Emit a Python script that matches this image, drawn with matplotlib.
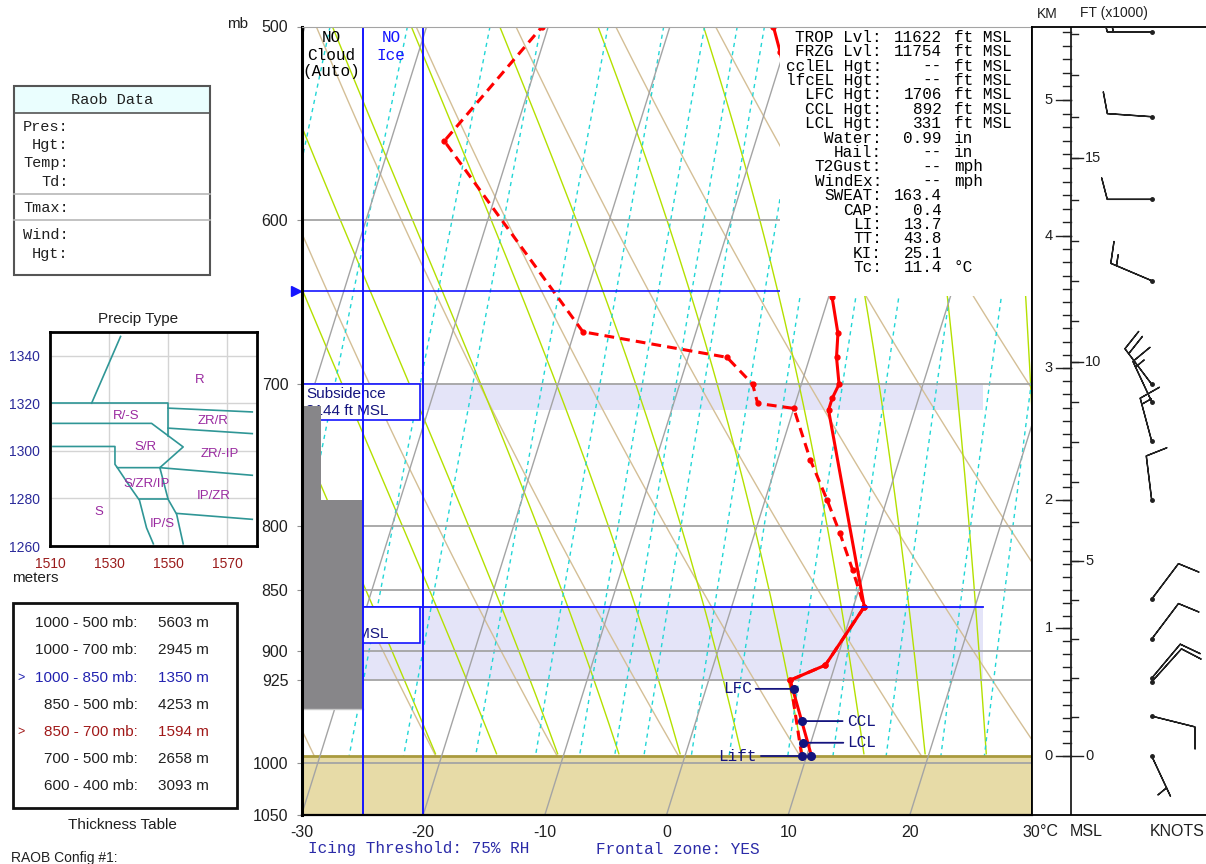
import numpy as np
import matplotlib.pyplot as plt
from matplotlib.patches import Rectangle

plt.rcParams['font.family'] = ['Liberation Sans', 'DejaVu Sans']
MONO = ['Liberation Mono', 'DejaVu Sans Mono']
W, H = 1206, 864
NAVY = '#14147e'
BLUE = '#1515ff'

# ---------------- sounding ----------------
temp_p = [993.3, 924.9, 911.9, 863.2, 717.3, 709.4, 700.1, 682.6, 667.4, 645.2, 512.0, 500.0]
temp_c = [10.4, 6.7, 9.2, 10.9, 2.9, 2.9, 3.1, 2.2, 1.7, 0.3, -10.3, -11.5]
dewp_p = [993.3, 924.9, 911.9, 863.2, 833.9, 805.4, 780.7, 751.9, 716.2, 712.8, 700.1, 682.6, 666.4, 556.9, 500.0]
dewp_c = [9.6, 6.7, 9.2, 10.9, 9.0, 7.0, 5.1, 2.7, 0.0, -3.1, -4.0, -6.8, -19.3, -35.6, -30.5]
p_sfc = 993.3
frz_p = 641.3

parcel_lab = ['LFC', 'CCL', 'LCL', 'Lift', '']
parcel_p = [932.5, 961.2, 981.0, 993.3, 993.3]
parcel_c = [7.2, 8.7, 9.4, 9.6, 10.4]
parcel_off = [-42, 45, 44, -45, 0]

# layers: subsidence and frontal zone
band_top = [700.1, 863.2]
band_bot = [717.3, 924.9]
band_text = [['Subsidence', '8144 ft MSL'], ['Frontal', '3850 ft MSL']]
band_box_bot = [724.1, 893.4]

# cloud column
cloud_top = [714.3, 780.7]
cloud_bot = [780.7, 950.4]
cloud_frac = [0.31, 1.0]

# winds
wind_p = [502.5, 544.3, 588.3, 635.1, 700.1, 711.7, 738.6, 780.7, 857.0, 889.8, 923.2, 926.4, 956.7, 993.3]
wind_dir = [270, 274, 270, 293, 323, 335, 345, 353, 37, 37, 40, 42, 104, 155]
wind_kt = [20, 10, 10, 15, 20, 15, 15, 10, 10, 10, 10, 10, 10, 5]

km_levels = [0, 1, 2, 3, 4, 5]
km_press = [993.3, 881.0, 780.7, 689.5, 609.0, 535.8]

# diagram background lines
isotherms = [-90, -80, -70, -60, -50, -40, -30, -20, -10, 0, 10, 20, 30]
isobars = [600, 700, 800, 850, 900, 925, 1000]
theta_c = [-40, -30, -20, -10, 0, 10, 20, 30, 40, 50, 60, 70, 80]
thetaw_c = [-20, -15, -10, -5, 0, 5, 10, 15, 20, 25, 30, 35]
mixr = [0.1, 0.2, 0.4, 0.6, 1, 1.5, 2, 2.5, 3, 4, 5, 7, 9, 12, 16, 20]

p_ticks = [500, 600, 700, 800, 850, 900, 925, 1000, 1050]
t_ticks = [-30, -20, -10, 0, 10, 20, 30]

stat_labels = ['TROP Lvl:', 'FRZG Lvl:', 'cclEL Hgt:', 'lfcEL Hgt:', 'LFC Hgt:', 'CCL Hgt:', 'LCL Hgt:',
               'Water:', 'Hail:', 'T2Gust:', 'WindEx:', 'SWEAT:', 'CAP:', 'LI:', 'TT:', 'KI:', 'Tc:']
stat_values = ['11622', '11754', '--', '--', '1706', '892', '331', '0.99', '--', '--', '--',
               '163.4', '0.4', '13.7', '43.8', '25.1', '11.4']
stat_units = ['ft MSL'] * 7 + ['in', 'in', 'mph', 'mph', '', '', '', '', '', '°C']

thick_layer = ['1000 - 500 mb:', '1000 - 700 mb:', '1000 - 850 mb:', '850 - 500 mb:',
               '850 - 700 mb:', '700 - 500 mb:', '600 - 400 mb:']
thick_value = ['5603 m', '2945 m', '1350 m', '4253 m', '1594 m', '2658 m', '3093 m']
thick_color = ['#202020', '#202020', '#2222b0', '#202020', '#a01818', '#202020', '#202020']
thick_mark = ['', '', '>', '', '>', '', '']

raob_rows = [('Pres:', 126.7), ('Hgt:', 145), ('Temp:', 163.3), ('Td:', 181.7),
             ('Tmax:', 208.3), ('Wind:', 235), ('Hgt:', 254)]

precip_lines = [
    [(1524.1, 1320), (1533.9, 1348)],
    [(1510, 1320), (1550, 1320), (1550, 1306.3)],
    [(1550, 1317.9), (1578.5, 1316.3)],
    [(1550, 1309.5), (1578.5, 1307.2)],
    [(1511, 1311.5), (1544.4, 1311.5), (1555.1, 1301.6), (1547.2, 1292.9)],
    [(1511, 1301.8), (1532, 1301.8), (1532, 1294.3), (1532.8, 1292.9), (1547.2, 1292.9), (1578.5, 1289.7)],
    [(1532.8, 1292.9), (1537.7, 1283.8), (1540.3, 1279.2), (1542.7, 1267.6), (1545, 1260.9)],
    [(1540.3, 1279.6), (1550, 1279.6)],
    [(1547.2, 1292.9), (1550, 1279.6), (1552.9, 1273.3), (1553.4, 1270.4), (1555.1, 1260.9)],
    [(1552.9, 1273.7), (1578.5, 1271.2)],
]
precip_names = ['R', 'R/-S', 'ZR/R', 'S/R', 'ZR/-IP', 'S/ZR/IP', 'IP/ZR', 'S', 'IP/S']
precip_x = [1560.8, 1535.7, 1565.3, 1542.2, 1567.6, 1542.7, 1565.3, 1526.4, 1548.1]
precip_y = [1329.7, 1314.7, 1312.3, 1301.6, 1298.8, 1286.2, 1281.0, 1274.4, 1269.3]

# ---------------- helpers ----------------
K = 27.34
P_BOT = 1050.0


def skx(t, p):
    return np.asarray(t, float) + K * np.log(P_BOT / np.asarray(p, float))


def moist_adiabat(tw, ps):
    Rd, Cp, Lv, eps = 287.04, 1005.7, 2.501e6, 0.622

    def f(T, p):
        tc = T - 273.15
        es = 6.112 * np.exp(17.67 * tc / (tc + 243.5))
        rs = eps * es / (p - es)
        return (Rd * T + Lv * rs) / (Cp + Lv ** 2 * rs * eps / (Rd * T ** 2))

    T = tw + 273.15
    out = [T]
    for i in range(len(ps) - 1):
        d = np.log(ps[i + 1] / ps[i])
        k1 = f(T, ps[i])
        k2 = f(T + k1 * d, ps[i + 1])
        T = T + 0.5 * (k1 + k2) * d
        out.append(T)
    return np.array(out) - 273.15


fig = plt.figure(figsize=(W / 100, H / 100), dpi=100)
lay = fig.add_axes([0, 0, 1, 1])
lay.set_xlim(0, W)
lay.set_ylim(H, 0)
lay.axis('off')
PX = lay.transData

# ---------------- main skew-T ----------------
ax = fig.add_axes([301.5 / W, 1 - 815 / H, 730 / W, 788.5 / H])
LP0, LP1 = np.log(P_BOT), np.log(500)
ax.set_xlim(-30, 30)
ax.set_ylim(LP0, LP1)

pp = np.geomspace(500, P_BOT, 80)
ppa = np.geomspace(500, p_sfc, 80)
for t in isotherms:
    ax.plot(skx(t, pp), np.log(pp), color='#a4a4a4', lw=1, zorder=3.5)
for p in isobars:
    ax.plot([-30, 30], [np.log(p)] * 2, color='#a4a4a4', lw=1.3, zorder=3.5)
for th in theta_c:
    tt = (th + 273.15) * (ppa / 1000.0) ** 0.2857 - 273.15
    ax.plot(skx(tt, ppa), np.log(ppa), color='#d4bf96', lw=1, zorder=1.5)
pm = np.geomspace(1000, 495, 160)
for tw in thetaw_c:
    tt = moist_adiabat(tw, pm)
    ok = pm <= p_sfc
    ax.plot(skx(tt[ok], pm[ok]), np.log(pm[ok]), color='#b4e000', lw=1, zorder=1.6)
for w in mixr:
    e = w * ppa / (622.0 + w)
    le = np.log(e / 6.112)
    td = 243.5 * le / (17.67 - le)
    ax.plot(skx(td, ppa), np.log(ppa), color='#22d6d6', lw=1, ls=(0, (3, 3)), zorder=1.7)

# layers
for top, bot in zip(band_top, band_bot):
    ax.add_patch(Rectangle((-30, np.log(top)), 56, np.log(bot) - np.log(top),
                           fc='#e4e4f8', ec='none', zorder=0.5))
ax.plot([-30, 26], [np.log(band_top[1])] * 2, color=BLUE, lw=1.3, zorder=5.4)

# ground
ax.add_patch(Rectangle((-30, np.log(p_sfc)), 60, LP0 - np.log(p_sfc), fc='#e7dba7', ec='none', zorder=3))
ax.plot([-30, 30], [np.log(p_sfc)] * 2, color='#a99a3e', lw=2, zorder=3.2)

# freezing level
ax.plot([-30, 30], [np.log(frz_p)] * 2, color=BLUE, lw=1.2, zorder=5.5)
ax.plot([-30.45], [np.log(frz_p)], marker='>', color=BLUE, ms=7, clip_on=False, zorder=9)

# sounding
ax.plot(skx(dewp_c, dewp_p), np.log(dewp_p), color='red', lw=2.2, dashes=(3.2, 2.0),
        marker='o', ms=3.5, zorder=5.1)
ax.plot(skx(temp_c, temp_p), np.log(temp_p), color='red', lw=2.2, marker='o', ms=3.5, zorder=5.2)

# stats box blanks the upper right
ax.add_patch(Rectangle((9.33, np.log(500.6)), 20.6, np.log(644.5) - np.log(500.6),
                       fc='white', ec='none', zorder=6))

# layer labels
for i, (top, bb) in enumerate(zip(band_top, band_box_bot)):
    ax.add_patch(Rectangle((-29.9, np.log(top)), 9.64, np.log(bb) - np.log(top),
                           fc='white', ec=BLUE, lw=1.2, zorder=6.5))
    y0 = 26.5 + 1062.6 * np.log(top / 500.0)
    for j, s in enumerate(band_text[i]):
        ax.text(306, y0 + 10 + 17 * j, s, transform=PX, ha='left', va='center',
                fontsize=11, color=NAVY, zorder=6.6)

# cloud column / ice column
for top, bot, fr in zip(cloud_top, cloud_bot, cloud_frac):
    ax.add_patch(Rectangle((-30, np.log(top)), 5.05 * fr, np.log(bot) - np.log(top),
                           fc='#878689', ec='none', zorder=7))
ax.plot([-30, -24.95], [np.log(cloud_bot[-1])] * 2, color='#c8c8c8', lw=1, zorder=7)
ax.add_patch(Rectangle((-24.95, LP0), 4.95, LP1 - LP0, fill=False, ec=BLUE, lw=1.4, zorder=7.5))

# parcel points
for lab, p, t, off in zip(parcel_lab, parcel_p, parcel_c, parcel_off):
    xy = (skx(t, p), np.log(p))
    ax.plot(*xy, 'o', color=NAVY, ms=5.5, zorder=8)
    if lab:
        ax.annotate(lab, xy=xy, xytext=(off, 0), textcoords='offset pixels',
                    ha='right' if off < 0 else 'left', va='center', fontsize=11.5,
                    family=MONO, color=NAVY, zorder=8,
                    arrowprops=dict(arrowstyle='-', color=NAVY, lw=1.3, shrinkA=1, shrinkB=0))

# axes styling
for side, s in ax.spines.items():
    s.set_zorder(9)
ax.spines['left'].set_linewidth(2.2)
ax.spines['bottom'].set_linewidth(1.6)
ax.spines['right'].set_linewidth(1.3)
ax.spines['top'].set_color('#a4a4a4')
ax.set_yticks(np.log(p_ticks))
ax.set_yticklabels([str(p) for p in p_ticks])
ax.set_xticks(t_ticks)
ax.set_xticklabels([str(t) for t in t_ticks])
ax.tick_params(axis='y', length=3.5, color='#909090', labelsize=11.5, pad=6, colors='#202020')
ax.tick_params(axis='y', color='#909090')
ax.tick_params(axis='x', length=0, labelsize=11.5, pad=7, colors='#202020')

lay.text(238, 24, 'mb', ha='center', va='center', fontsize=11, color='#202020')
lay.text(1040, 832, '°C', ha='left', va='center', fontsize=11.5, color='#202020')
lay.text(1086, 832, 'MSL', ha='center', va='center', fontsize=11.5, color='#202020')
lay.text(1177, 832, 'KNOTS', ha='center', va='center', fontsize=11.5, color='#202020')
lay.text(308, 849, 'Icing Threshold: 75% RH', ha='left', va='center', fontsize=11.5,
         family=MONO, color='#2b2ba8')
lay.text(596, 849, 'Frontal zone: YES', ha='left', va='center', fontsize=11.5,
         family=MONO, color='#2b2ba8')

# stats block
for i, (lb, vl, un) in enumerate(zip(stat_labels, stat_values, stat_units)):
    y = 37.3 + 14.4 * i
    ax.text(882, y, lb, transform=PX, ha='right', va='center', fontsize=11.5, family=MONO, zorder=9)
    ax.text(942, y, vl, transform=PX, ha='right', va='center', fontsize=11.5, family=MONO, zorder=9)
    if un:
        ax.text(954, y, un, transform=PX, ha='left', va='center', fontsize=11.5, family=MONO, zorder=9)

for s, y in zip(['NO', 'Cloud', '(Auto)'], [37.3, 56, 71.7]):
    ax.text(331, y, s, transform=PX, ha='center', va='center', fontsize=11.5, family=MONO, zorder=9)
for s, y in zip(['NO', 'Ice'], [37.3, 56]):
    ax.text(391, y, s, transform=PX, ha='center', va='center', fontsize=11.5, family=MONO,
            color=BLUE, zorder=9)

# ---------------- wind barb panel ----------------
wax = fig.add_axes([1031.5 / W, 1 - 815 / H, 174.5 / W, 788.5 / H])
wax.set_xlim(0, 174.5)
wax.set_ylim(LP0, LP1)
wax.set_xticks([])
wax.set_yticks([])
for side in ['left', 'top', 'bottom']:
    wax.spines[side].set_linewidth(1.3)
wax.spines['right'].set_visible(False)

lnp_km = np.log(km_press)
km_ext = km_levels + [6]
lnp_ext = list(lnp_km) + [2 * lnp_km[-1] - lnp_km[-2]]


def h2y(h_km):
    return np.interp(h_km, km_ext, lnp_ext)


AX0 = 39.5
wax.plot([AX0, AX0], [LP0, LP1], color='#202020', lw=1.3)
for h in np.arange(0, 5.55, 0.1):
    wax.plot([AX0 - 8, AX0], [h2y(h)] * 2, color='#202020', lw=1)
for h in km_levels:
    wax.plot([AX0 - 15, AX0], [h2y(h)] * 2, color='#202020', lw=1)
    wax.text(21, h2y(h), str(h), ha='right', va='center', fontsize=10.5, color='#202020')
for kft in [0, 5, 10, 15]:
    y = h2y(kft * 0.3048)
    wax.plot([AX0, AX0 + 12], [y] * 2, color='#202020', lw=1)
    wax.text(53.5, y, str(kft), ha='left', va='center', fontsize=10.5, color='#202020')
for kft in range(1, 19):
    wax.plot([AX0, AX0 + 7], [h2y(kft * 0.3048)] * 2, color='#202020', lw=1)
lay.text(1047.5, 13.5, 'KM', ha='center', va='center', fontsize=10, color='#202020')
lay.text(1113.5, 13.5, 'FT (x1000)', ha='center', va='center', fontsize=10, color='#202020')

wd = np.radians(wind_dir)
wk = np.asarray(wind_kt, float)
wu = -wk * np.sin(wd)
wv = -wk * np.cos(wd)
bx = np.full(len(wind_p), 120.2)
wax.barbs(bx, np.log(wind_p), wu, wv, length=8, pivot='tip', linewidth=1, color='#202020',
          sizes=dict(spacing=0.14, height=0.48, width=0.25), zorder=5)
wax.plot(bx, np.log(wind_p), 'o', ms=2.5, color='#202020', zorder=6)

# ---------------- Raob data box ----------------
lay.add_patch(Rectangle((14, 86), 196, 27, fc='#eafefe', ec='none'))
lay.add_patch(Rectangle((14, 86), 196, 189, fill=False, ec='#555555', lw=1.5))
lay.plot([14, 210], [113.3, 113.3], color='#555555', lw=1.2)
lay.plot([14, 210], [194, 194], color='#b8b8b8', lw=1.2)
lay.plot([14, 210], [220, 220], color='#b8b8b8', lw=1.2)
lay.text(112, 99.5, 'Raob Data', ha='center', va='center', fontsize=11, family=MONO, color='#202020')
for s, y in raob_rows:
    lay.text(68.5, y, s, ha='right', va='center', fontsize=11, family=MONO, color='#202020')

# ---------------- precip type ----------------
pax = fig.add_axes([50 / W, 1 - 546 / H, 206.7 / W, 214.3 / H])
pax.set_xlim(1510, 1580)
pax.set_ylim(1260, 1350)
pax.set_xticks([1510, 1530, 1550, 1570])
pax.set_yticks([1260, 1280, 1300, 1320, 1340])
pax.grid(True, color='#d4d4d4', lw=1)
pax.set_axisbelow(True)
pax.tick_params(length=0, labelsize=10)
pax.tick_params(axis='x', colors='#9a1c1c', pad=8)
pax.tick_params(axis='y', colors='#2a2a9a', pad=7)
for s in pax.spines.values():
    s.set_linewidth(2)
for line in precip_lines:
    xs, ys = zip(*line)
    pax.plot(xs, ys, color='#2f9696', lw=1.2)
for n, x, y in zip(precip_names, precip_x, precip_y):
    pax.text(x, y, n, ha='center', va='center', fontsize=9.5, color='#9a2aa0')
lay.text(138.3, 319, 'Precip Type', ha='center', va='center', fontsize=11, color='#202020')
lay.text(12, 578, 'meters', ha='left', va='center', fontsize=11, color='#202020')

# ---------------- thickness table ----------------
lay.add_patch(Rectangle((12.7, 603.3), 224.6, 205, fill=False, ec='#101010', lw=2))
for i, (lb, vl, c, m) in enumerate(zip(thick_layer, thick_value, thick_color, thick_mark)):
    y = 623.3 + 27.17 * i
    lay.text(137.5, y, lb, ha='right', va='center', fontsize=11, color=c)
    lay.text(158.5, y, vl, ha='left', va='center', fontsize=11, color=c)
    if m:
        lay.text(17, y, m, ha='left', va='center', fontsize=9, color=c)
lay.text(122, 825, 'Thickness Table', ha='center', va='center', fontsize=11, color='#202020')
lay.text(11, 858, 'RAOB Config #1:', ha='left', va='center', fontsize=10, color='#202020')

fig.savefig('out.png', dpi=100)
